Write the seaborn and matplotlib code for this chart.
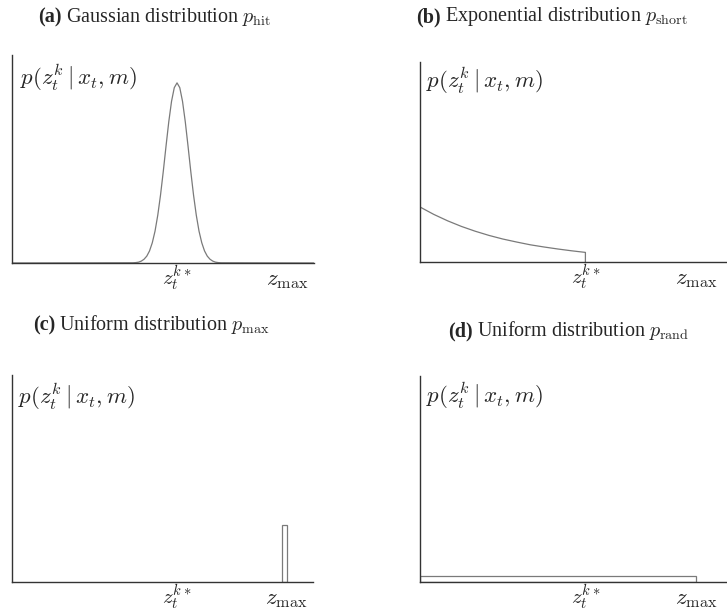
import numpy as np
import pandas as pd
import matplotlib
matplotlib.use("Agg")
import matplotlib.pyplot as plt
import seaborn as sns

sns.set_style("white")
plt.rcParams["mathtext.fontset"] = "cm"
plt.rcParams["font.family"] = ["Liberation Serif", "DejaVu Serif"]

# ---- data (normalized: x in units of z_max, y as fraction of axis height) ----
tick_pos = [0.6, 1.0]
tick_labels = [r"$z_t^{k*}$", r"$z_{\max}$"]

# (a) Gaussian p_hit
gauss_x = [0.0, 0.44, 0.45, 0.46, 0.47, 0.48, 0.49, 0.50, 0.51, 0.52, 0.53, 0.54,
           0.55, 0.56, 0.57, 0.58, 0.59, 0.60, 0.61, 0.62, 0.63, 0.64, 0.65, 0.66,
           0.67, 0.68, 0.69, 0.70, 0.71, 0.72, 0.73, 0.74, 0.75, 0.76, 1.10]
gauss_y = [0.0, 0.001, 0.002, 0.004, 0.009, 0.018, 0.033, 0.058, 0.097, 0.153, 0.230,
           0.327, 0.440, 0.562, 0.679, 0.777, 0.843, 0.866, 0.843, 0.777, 0.679, 0.562,
           0.440, 0.327, 0.230, 0.153, 0.097, 0.058, 0.033, 0.018, 0.009, 0.004, 0.002,
           0.001, 0.0]

# (b) Exponential p_short
exp_x = [0.0, 0.05, 0.10, 0.15, 0.20, 0.25, 0.30, 0.35, 0.40, 0.45, 0.50, 0.55, 0.60, 0.60]
exp_y = [0.275, 0.238, 0.206, 0.178, 0.154, 0.133, 0.115, 0.100, 0.086, 0.075, 0.065,
         0.056, 0.048, 0.0]

# (c) Uniform p_max (narrow bar at z_max)
pmax_left = [0.982]
pmax_width = [0.018]
pmax_height = [0.275]

# (d) Uniform p_rand (flat over [0, z_max])
prand_left = [0.0]
prand_width = [1.0]
prand_height = [0.029]

titles = [("(a)", "Gaussian distribution", r"$p_{\mathrm{hit}}$"),
          ("(b)", "Exponential distribution", r"$p_{\mathrm{short}}$"),
          ("(c)", "Uniform distribution", r"$p_{\mathrm{max}}$"),
          ("(d)", "Uniform distribution", r"$p_{\mathrm{rand}}$")]

ylabel = r"$p(z_t^k\mid x_t,m)$"

W, H = 727, 611
fig = plt.figure(figsize=(W / 100, H / 100), dpi=100)


def ax_px(left, right, top, bottom):
    return fig.add_axes([left / W, (H - bottom) / H, (right - left) / W, (bottom - top) / H])


axes = [ax_px(12, 314, 55, 263), ax_px(420, 726, 62, 262),
        ax_px(12, 313, 375, 582), ax_px(420, 726, 376, 582)]
xmax = [1.098, 1.11, 1.096, 1.109]
label_pos = [(0.026, 0.89), (0.02, 0.905), (0.02, 0.894), (0.02, 0.903)]

curve_col = "#7a7a7a"
axis_col = "#333333"

sns.lineplot(x=gauss_x, y=gauss_y, ax=axes[0], color=curve_col, linewidth=0.9,
             estimator=None)
sns.lineplot(x=exp_x, y=exp_y, ax=axes[1], color=curve_col, linewidth=0.9,
             sort=False, estimator=None)
axes[2].bar(pmax_left, pmax_height, width=pmax_width, align="edge",
            facecolor="white", edgecolor=curve_col, linewidth=0.9)
axes[3].bar(prand_left, prand_height, width=prand_width, align="edge",
            facecolor="white", edgecolor=curve_col, linewidth=0.9)

tick_sizes = [15, 16.5]
for ax, xm, (lx, ly) in zip(axes, xmax, label_pos):
    ax.set_xlim(0, xm)
    ax.set_ylim(0, 1)
    for s in ["top", "right"]:
        ax.spines[s].set_visible(False)
    for s in ["left", "bottom"]:
        ax.spines[s].set_color(axis_col)
        ax.spines[s].set_linewidth(1.0)
    ax.set_yticks([])
    ax.set_xticks(tick_pos)
    ax.set_xticklabels(tick_labels)
    ax.tick_params(axis="x", direction="in", length=4, width=0.8, color=axis_col, pad=16)
    for lbl, fs in zip(ax.get_xticklabels(), tick_sizes):
        lbl.set_fontsize(fs)
        lbl.set_va("baseline")
    ax.text(lx, ly, ylabel, transform=ax.transAxes, fontsize=16.5, ha="left", va="center")
    ax.set_xlabel("")
    ax.set_ylabel("")

title_pos = [(38, 17), (416, 17), (33, 325), (448, 331)]
fig.canvas.draw()
r = fig.canvas.get_renderer()
for (x, y), (lab, txt, sym) in zip(title_pos, titles):
    t1 = fig.text(x / W, 1 - y / H, lab, fontsize=14.5, weight="bold", va="center", ha="left")
    bb = t1.get_window_extent(renderer=r)
    t2 = fig.text((bb.x1 + 4) / W, 1 - y / H, txt + " " + sym, fontsize=14.5,
                  va="center", ha="left")

fig.savefig("out.png", dpi=100)
